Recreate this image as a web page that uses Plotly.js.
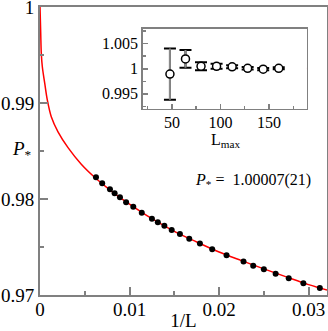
<!DOCTYPE html>
<html>
<head>
<meta charset="utf-8">
<script src="https://cdn.plot.ly/plotly-3.0.1.min.js"></script>
<style>
  html, body { margin: 0; padding: 0; background: #fff; }
  #grafico { width: 328px; height: 331px; }
</style>
</head>
<body>
<div id="grafico"></div>
<script>
// ===== Dados =====
// tamanhos L e P(L) medidos (painel principal)
const tamanhosL = [160, 144, 128, 120, 112, 104, 96, 88, 80, 76, 72, 68, 64, 60, 56, 52, 48, 44, 42, 40, 38, 36, 34, 32];
const pMedido = [0.98226, 0.98164, 0.98101, 0.98059, 0.98018, 0.97966, 0.97920, 0.97857, 0.97795, 0.97757, 0.97722, 0.97677,
                 0.97635, 0.97586, 0.97536, 0.97476, 0.97414, 0.97347, 0.97304, 0.97268, 0.97221, 0.97174, 0.97122, 0.97071];

// curva de ajuste
const ajusteX = [0, 0.00008, 0.000145, 0.00026, 0.00053, 0.00082, 0.00126, 0.00201, 0.00313, 0.00461, 0.00603,
                 0.008, 0.010, 0.0125, 0.015, 0.0175, 0.020, 0.0225, 0.025, 0.0275, 0.030, 0.03205];
const ajusteY = [1.00007, 0.99726, 0.99518, 0.99378, 0.99205, 0.99031, 0.98857, 0.98700, 0.98535, 0.98362, 0.98232,
                 0.9808, 0.97946, 0.97794, 0.97663, 0.97552, 0.97447, 0.97357, 0.97271, 0.97188, 0.97107, 0.97050];

// inset: P* estimado em função de Lmax
const lMax = [48, 64, 80, 96, 112, 128, 144, 160];
const pEstrela = [0.99894, 1.00196, 1.0005, 1.0005, 1.0004, 1.0001, 0.99993, 1.0001];
const pErro = [0.0051, 0.00177, 0.0008, 0.0005, 0.0003, 0.00025, 0.0002, 0.0002];
const pFinal = 1.00007;

const cinza = "#808080";
const fonte = "Liberation Serif";

function fonteTick(tam) {
  return { family: fonte, size: tam, color: "#000" };
}

// ===== Traços =====
const data = [
  {
    x: ajusteX, y: ajusteY, type: "scatter", mode: "lines",
    line: { color: "#ff0000", width: 1.5, shape: "spline", smoothing: 1 },
    xaxis: "x", yaxis: "y", hoverinfo: "skip"
  },
  {
    x: tamanhosL.map(l => 1 / l), y: pMedido, type: "scatter", mode: "markers",
    marker: { color: "#000", size: 6 },
    xaxis: "x", yaxis: "y"
  },
  // barras de erro do inset: tampas pretas, haste cinza
  {
    x: lMax, y: pEstrela, type: "scatter", mode: "markers",
    marker: { size: 1, opacity: 0 },
    error_y: { type: "data", array: pErro, visible: true, color: "#000", thickness: 2, width: 6 },
    xaxis: "x2", yaxis: "y2"
  },
  {
    x: lMax, y: pEstrela, type: "scatter", mode: "markers",
    marker: { size: 1, opacity: 0 },
    error_y: { type: "data", array: pErro, visible: true, color: "#8a8a8a", thickness: 2, width: 0 },
    xaxis: "x2", yaxis: "y2"
  },
  {
    x: lMax, y: pEstrela, type: "scatter", mode: "markers",
    marker: { color: "#fff", size: 8, line: { color: "#000", width: 1.5 } },
    xaxis: "x2", yaxis: "y2"
  }
];

function eixo(extra) {
  return Object.assign({
    showline: true, linecolor: cinza, linewidth: 2, mirror: true,
    ticks: "inside", tickcolor: cinza, tickwidth: 2, ticklen: 8,
    showgrid: false, zeroline: false, ticklabeloverflow: "allow",
    tickfont: fonteTick(19)
  }, extra);
}

const layout = {
  width: 328, height: 331,
  margin: { l: 40, r: 1, t: 7, b: 36 },
  paper_bgcolor: "#fff", plot_bgcolor: "#fff",
  showlegend: false,
  font: { family: fonte, color: "#000", size: 19 },
  xaxis: eixo({
    range: [0, 0.03205], tick0: 0, dtick: 0.01, ticklabelstandoff: -4,
    minor: { dtick: 0.005, ticks: "inside", ticklen: 4, tickwidth: 2, tickcolor: cinza },
    title: { text: "1/L", font: { family: fonte, size: 19 }, standoff: 4 },
    domain: [0, 1], anchor: "y"
  }),
  yaxis: eixo({
    range: [0.96999, 1.00001], tick0: 0, dtick: 0.01,
    minor: { dtick: 0.005, ticks: "inside", ticklen: 4, tickwidth: 2, tickcolor: cinza },
    domain: [0, 1], anchor: "x"
  }),
  xaxis2: eixo({
    range: [20, 189], tick0: 0, dtick: 50, ticklabelstandoff: -2,
    linewidth: 1.5, ticklen: 5, tickwidth: 1.5,
    minor: { dtick: 25, ticks: "inside", ticklen: 3, tickwidth: 1.5, tickcolor: cinza },
    tickfont: fonteTick(16),
    domain: [0.358, 0.930], anchor: "y2"
  }),
  yaxis2: eixo({
    range: [0.992, 1.008], tick0: 1, dtick: 0.005,
    linewidth: 1.5, ticklen: 5, tickwidth: 1.5,
    minor: { dtick: 0.0025, ticks: "inside", ticklen: 3, tickwidth: 1.5, tickcolor: cinza },
    tickfont: fonteTick(16),
    domain: [0.646, 0.925], anchor: "x2"
  }),
  shapes: [
    { type: "line", xref: "x2 domain", yref: "y2", x0: 0, x1: 1, y0: pFinal, y1: pFinal,
      line: { color: "#ff7070", width: 1.5 }, layer: "below" }
  ],
  annotations: [
    { text: "<i>P</i><sub>*</sub>", xref: "paper", yref: "paper", x: -0.105, y: 0.503,
      xanchor: "left", yanchor: "middle", showarrow: false, font: { family: fonte, size: 19 } },
    { text: "<i>P</i><sub>*</sub> =  1.00007(21)", xref: "paper", yref: "paper", x: 0.951, y: 0.396,
      xanchor: "right", yanchor: "middle", showarrow: false, font: { family: fonte, size: 16 } },
    { text: "L<sub>max</sub>", xref: "paper", yref: "paper", x: 0.645, y: 0.536,
      xanchor: "center", yanchor: "middle", showarrow: false, font: { family: fonte, size: 16 } }
  ]
};

Plotly.newPlot("grafico", data, layout, { displayModeBar: false, staticPlot: true });
</script>
</body>
</html>
